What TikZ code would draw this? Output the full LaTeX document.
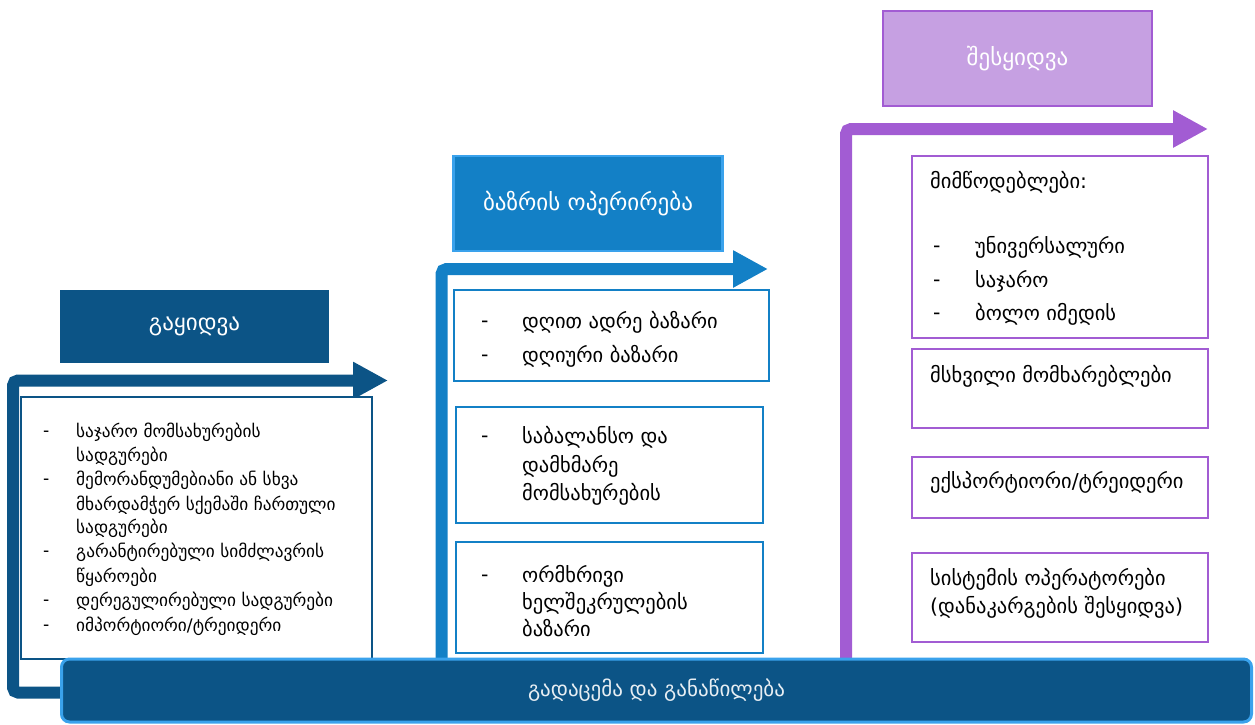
\documentclass[tikz,border=0pt]{standalone}
\usepackage{fontspec}
\setmainfont{DejaVu Sans}
\usetikzlibrary{arrows.meta}
\definecolor{sellblue}{HTML}{0C5486}
\definecolor{mktblue}{HTML}{1380C6}
\definecolor{mktedge}{HTML}{3AA2EC}
\definecolor{buyline}{HTML}{A25CD3}
\definecolor{buyfill}{HTML}{C6A0E2}
\tikzset{
	head/.style={minimum width=269pt, inner sep=0pt, text=white, font=\fontsize{23}{26}\selectfont},
	flow/.style={line width=12pt, rounded corners=5pt, -{Triangle[length=35pt,width=35pt]}},
	item/.style={right, inner sep=0pt, font=\fontsize{20.5}{23}\selectfont},
	small/.style={right, inner sep=0pt, font=\fontsize{17.3}{19}\selectfont},
}
\begin{document}
\begin{tikzpicture}[x=1pt,y=-1pt]
	\useasboundingbox (0,0) rectangle (1255,725);
	% bent arrows
	\draw [flow, sellblue] (60,692.5) -- (13,692.5) -- (13,380.5) -- (388,380.5);
	\draw [flow, mktblue] (441.5,680) -- (441.5,269) -- (768,269);
	\draw [flow, buyline] (846,680) -- (846,129) -- (1208,129);
	% headers
	\node [head, fill=sellblue, minimum height=73pt] (sell) at (194.5,326.5) {გაყიდვა};
	\node [head, fill=mktblue, draw=mktedge, line width=2.5pt, minimum height=95pt] (mkt) at (588,203.5) {ბაზრის ოპერირება};
	\node [head, fill=buyfill, draw=buyline, line width=2.5pt, minimum height=95pt] (buy) at (1017.5,58.5) {შესყიდვა};
	% selling
	\draw [sellblue, line width=1.5pt, fill=white] (21,397) rectangle (372,659);
	\foreach \y in {433, 481, 553, 602, 627} {
		\node [small] (sd\y) at (43,\y) {\strut -};
	}
	\node [small] (s1) at (76,433) {\strut საჯარო მომსახურების};
	\node [small] (s2) at (76,457) {\strut სადგურები};
	\node [small] (s3) at (76,481) {\strut მემორანდუმებიანი ან სხვა};
	\node [small] (s4) at (76,506) {\strut მხარდამჭერ სქემაში ჩართული};
	\node [small] (s5) at (76,529) {\strut სადგურები};
	\node [small] (s6) at (76,553) {\strut გარანტირებული სიმძლავრის};
	\node [small] (s7) at (76,578) {\strut წყაროები};
	\node [small] (s8) at (76,602) {\strut დერეგულირებული სადგურები};
	\node [small] (s9) at (76,627) {\strut იმპორტიორი/ტრეიდერი};
	% market operation
	\draw [mktblue, line width=2.5pt, fill=white] (454,290) rectangle (769,381);
	\draw [mktblue, line width=2.5pt, fill=white] (456,407) rectangle (763,523);
	\draw [mktblue, line width=2.5pt, fill=white] (456,542) rectangle (763,653);
	\foreach \y in {323, 357, 438, 577} {
		\node [item] (md\y) at (481,\y) {\strut -};
	}
	\node [item] (m1) at (522,323) {\strut დღით ადრე ბაზარი};
	\node [item] (m2) at (522,357) {\strut დღიური ბაზარი};
	\node [item] (m3) at (522,438) {\strut საბალანსო და};
	\node [item] (m4) at (522,467) {\strut დამხმარე};
	\node [item] (m5) at (522,495) {\strut მომსახურების};
	\node [item] (m6) at (522,577) {\strut ორმხრივი};
	\node [item] (m7) at (522,604) {\strut ხელშეკრულების};
	\node [item] (m8) at (522,631) {\strut ბაზარი};
	% buying
	\draw [buyline, line width=2pt, fill=white] (912,156) rectangle (1208,338);
	\draw [buyline, line width=2pt, fill=white] (912,349) rectangle (1208,428);
	\draw [buyline, line width=2pt, fill=white] (912,457) rectangle (1208,518);
	\draw [buyline, line width=2pt, fill=white] (912,553) rectangle (1208,642);
	\foreach \y in {248, 282, 315} {
		\node [item] (bd\y) at (933,\y) {\strut -};
	}
	\node [item] (b1) at (930,183) {\strut მიმწოდებლები:};
	\node [item] (b2) at (975,248) {\strut უნივერსალური};
	\node [item] (b3) at (975,282) {\strut საჯარო};
	\node [item] (b4) at (975,315) {\strut ბოლო იმედის};
	\node [item] (b5) at (930,377) {\strut მსხვილი მომხარებლები};
	\node [item] (b6) at (930,483) {\strut ექსპორტიორი/ტრეიდერი};
	\node [item] (b7) at (930,580) {\strut სისტემის ოპერატორები};
	\node [item] (b8) at (930,608) {\strut (დანაკარგების შესყიდვა)};
	% transmission
	\node [draw=mktedge, fill=sellblue, line width=3pt, rounded corners=8pt, minimum width=1190pt, minimum height=63pt, text=white!90!sellblue, font=\fontsize{21}{24}\selectfont] (grid) at (656.5,690.5) {გადაცემა და განაწილება};
\end{tikzpicture}
\end{document}
